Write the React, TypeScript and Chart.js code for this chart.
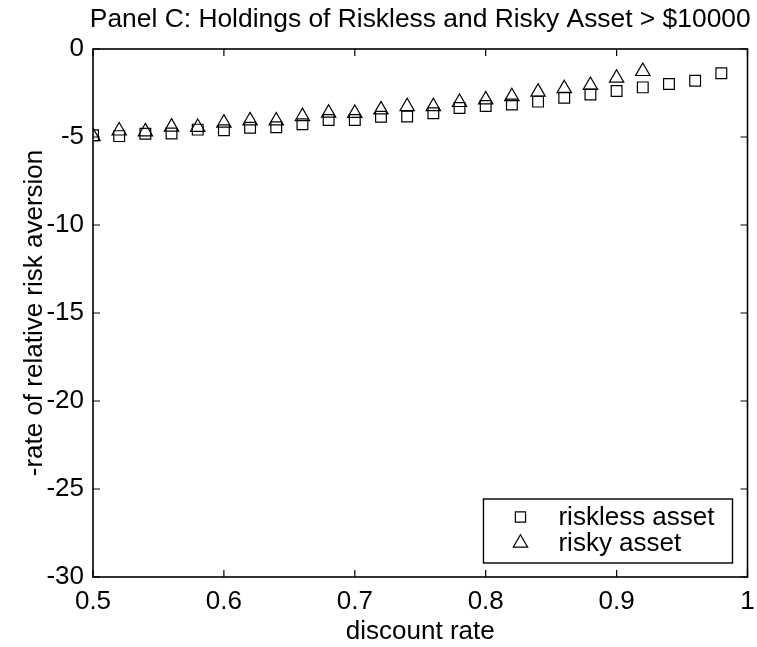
import React, { useEffect, useRef } from "react";
import { Chart, registerables } from "chart.js";

Chart.register(...registerables);

const titleText = "Panel C: Holdings of Riskless and Risky Asset > $10000";
const xLabel = "discount rate";
const yLabel = "-rate of relative risk aversion";

const seriesNames = ["riskless asset", "risky asset"];

const xRiskless = [0.5, 0.52, 0.54, 0.56, 0.58, 0.6, 0.62, 0.64, 0.66, 0.68, 0.7, 0.72, 0.74, 0.76, 0.78, 0.8, 0.82, 0.84, 0.86, 0.88, 0.9, 0.92, 0.94, 0.96, 0.98];
const yRiskless = [-4.9, -4.95, -4.82, -4.8, -4.58, -4.62, -4.47, -4.45, -4.27, -4.03, -4.03, -3.85, -3.84, -3.65, -3.35, -3.24, -3.15, -2.99, -2.77, -2.58, -2.39, -2.18, -1.99, -1.8, -1.38];

const xRisky = [0.5, 0.52, 0.54, 0.56, 0.58, 0.6, 0.62, 0.64, 0.66, 0.68, 0.7, 0.72, 0.74, 0.76, 0.78, 0.8, 0.82, 0.84, 0.86, 0.88, 0.9, 0.92];
const yRisky = [-4.97, -4.65, -4.7, -4.43, -4.45, -4.2, -4.07, -4.08, -3.83, -3.64, -3.65, -3.45, -3.27, -3.27, -3.03, -2.88, -2.7, -2.44, -2.25, -2.06, -1.65, -1.27];

const xTicks = [0.5, 0.6, 0.7, 0.8, 0.9, 1];
const yTicks = [-30, -25, -20, -15, -10, -5, 0];

const FONT = "'Liberation Sans', Arial, Helvetica, sans-serif";

function drawMarker(ctx: CanvasRenderingContext2D, style: string, x: number, y: number, r: number) {
  ctx.beginPath();
  if (style === "rect") {
    const s = r * Math.SQRT1_2;
    ctx.rect(x - s, y - s, 2 * s, 2 * s);
  } else {
    const h = r;
    ctx.moveTo(x, y - h);
    ctx.lineTo(x + h * Math.sin(Math.PI * 2 / 3), y + h * 0.5);
    ctx.lineTo(x - h * Math.sin(Math.PI * 2 / 3), y + h * 0.5);
    ctx.closePath();
  }
  ctx.stroke();
}

const framePlugin = {
  id: "frame",
  afterDraw(chart: any) {
    const { ctx, chartArea } = chart;
    const { left, right, top, bottom } = chartArea;
    const xs = chart.scales.x;
    const ys = chart.scales.y;
    ctx.save();
    ctx.strokeStyle = "#000";
    ctx.lineWidth = 1.2;
    const tl = 7;
    ctx.beginPath();
    xTicks.forEach((v) => {
      const px = xs.getPixelForValue(v);
      ctx.moveTo(px, bottom);
      ctx.lineTo(px, bottom - tl);
      ctx.moveTo(px, top);
      ctx.lineTo(px, top + tl);
    });
    yTicks.forEach((v) => {
      const py = ys.getPixelForValue(v);
      ctx.moveTo(left, py);
      ctx.lineTo(left + tl, py);
      ctx.moveTo(right, py);
      ctx.lineTo(right - tl, py);
    });
    ctx.stroke();
    ctx.lineWidth = 1.6;
    ctx.strokeRect(left, top, right - left, bottom - top);

    // title
    ctx.fillStyle = "#000";
    ctx.font = `26.4px ${FONT}`;
    ctx.textAlign = "center";
    ctx.textBaseline = "alphabetic";
    ctx.fillText(titleText, (left + right) / 2, top - 22);

    // legend
    ctx.font = `26px ${FONT}`;
    const widths = chart.data.datasets.map((d: any) => ctx.measureText(d.label).width);
    const maxW = Math.max(...widths);
    const boxW = 75 + maxW + 18;
    const boxH = 64;
    const bx = right - 15 - boxW;
    const by = bottom - 14 - boxH;
    ctx.fillStyle = "#fff";
    ctx.fillRect(bx, by, boxW, boxH);
    ctx.lineWidth = 1.4;
    ctx.strokeStyle = "#000";
    ctx.strokeRect(bx, by, boxW, boxH);
    chart.data.datasets.forEach((d: any, i: number) => {
      const cy = by + 18 + i * 26;
      ctx.lineWidth = 1.2;
      drawMarker(ctx, d.pointStyle, bx + 37, cy, d.legendRadius);
      ctx.fillStyle = "#000";
      ctx.textAlign = "left";
      ctx.textBaseline = "middle";
      ctx.fillText(d.label, bx + 75, cy + 1);
    });
    ctx.restore();
  },
};

export default function App() {
  const ref = useRef<HTMLCanvasElement | null>(null);
  useEffect(() => {
    document.body.style.margin = "0";
    const canvas = ref.current;
    if (!canvas) return;
    const chart = new Chart(canvas, {
      type: "scatter",
      data: {
        datasets: [
          {
            label: seriesNames[0],
            data: xRiskless.map((x, i) => ({ x, y: yRiskless[i] })),
            pointStyle: "rect",
            pointRadius: 7.6,
            borderColor: "#000",
            backgroundColor: "rgba(0,0,0,0)",
            borderWidth: 1.2,
            showLine: false,
            legendRadius: 7.2,
          } as any,
          {
            label: seriesNames[1],
            data: xRisky.map((x, i) => ({ x, y: yRisky[i] })),
            pointStyle: "triangle",
            pointRadius: 8.3,
            borderColor: "#000",
            backgroundColor: "rgba(0,0,0,0)",
            borderWidth: 1.2,
            showLine: false,
            legendRadius: 8.3,
          } as any,
        ],
      },
      options: {
        animation: false,
        responsive: false,
        devicePixelRatio: 1,
        layout: { padding: { top: 49, right: 4, left: 0, bottom: 0 } },
        plugins: {
          legend: { display: false },
          tooltip: { enabled: false },
          title: { display: false },
        },
        scales: {
          x: {
            type: "linear",
            min: 0.5,
            max: 1,
            afterBuildTicks: (s: any) => {
              s.ticks = xTicks.map((v) => ({ value: v }));
            },
            afterFit: (s: any) => {
              s.height = 70;
              s.paddingLeft = 0;
              s.paddingRight = 0;
            },
            grid: { display: false, drawTicks: false },
            border: { display: false },
            ticks: {
              padding: 9,
              color: "#000",
              font: { family: FONT, size: 26 },
              callback: (v: any) => String(Number(Number(v).toFixed(1))),
              maxRotation: 0,
              autoSkip: false,
            },
            title: {
              display: true,
              text: xLabel,
              color: "#000",
              font: { family: FONT, size: 26 },
              padding: { top: 0, bottom: 0 },
            },
          },
          y: {
            type: "linear",
            min: -30,
            max: 0,
            afterBuildTicks: (s: any) => {
              s.ticks = yTicks.map((v) => ({ value: v }));
            },
            afterFit: (s: any) => {
              s.width = 93;
              s.paddingTop = 0;
              s.paddingBottom = 0;
            },
            grid: { display: false, drawTicks: false },
            border: { display: false },
            ticks: {
              padding: 9,
              color: "#000",
              font: { family: FONT, size: 26 },
              callback: (v: any) => String(v),
              autoSkip: false,
            },
            title: {
              display: true,
              text: yLabel,
              color: "#000",
              font: { family: FONT, size: 26 },
              padding: { top: 19, bottom: 0 },
            },
          },
        },
      },
      plugins: [framePlugin],
    });
    return () => chart.destroy();
  }, []);
  return (
    <div style={{ width: 757, height: 647, background: "#fff" }}>
      <canvas ref={ref} width={757} height={647} style={{ display: "block" }} />
    </div>
  );
}
